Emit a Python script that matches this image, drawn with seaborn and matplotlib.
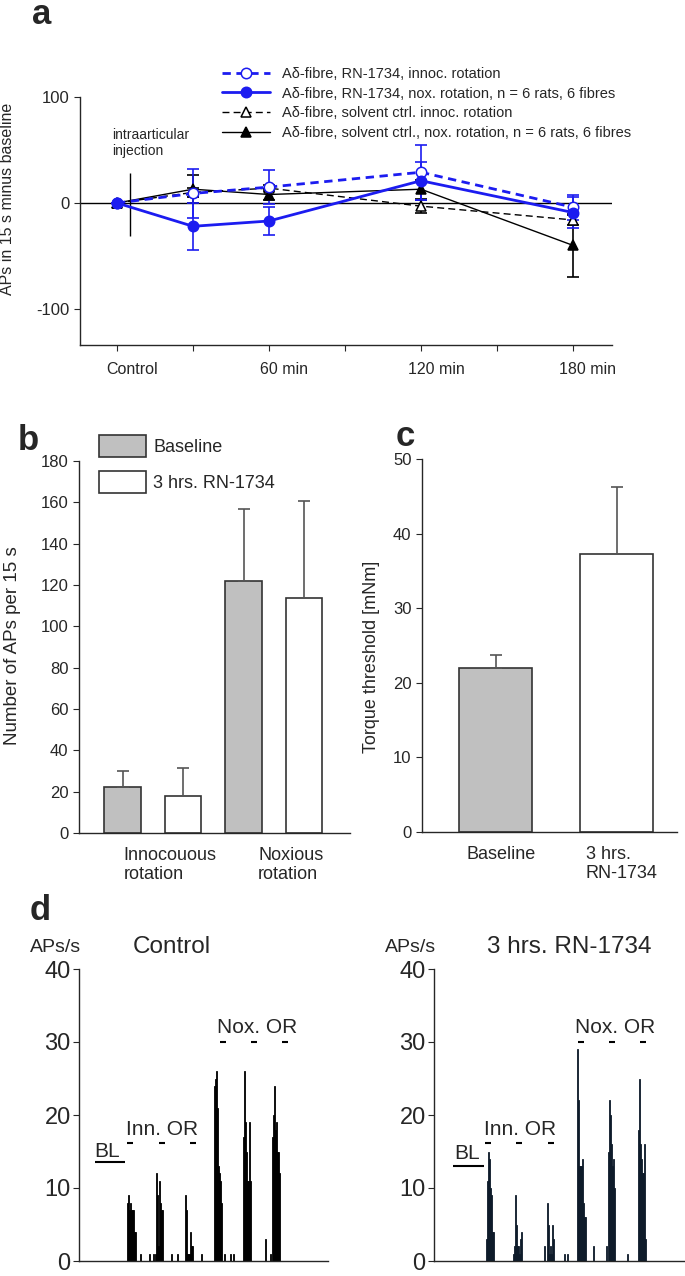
import numpy as np
import pandas as pd
import matplotlib
matplotlib.use("Agg")
import matplotlib.pyplot as plt
import matplotlib.transforms as mtransforms
import seaborn as sns

# ---- panel a: change of APs after injection ----
time_points = [0, 30, 60, 120, 180]
time_ticks = [0, 30, 60, 90, 120, 150, 180]
time_labels = ["Control", "", "60 min", "", "120 min", "", "180 min"]

rn_innoc_mean = [0, 9, 15, 29, -4]
rn_innoc_err = [0, 23, 16, 26, 12]
rn_nox_mean = [0, -22, -17, 21, -9]
rn_nox_err = [0, 22, 13, 18, 15]
solv_innoc_mean = [0, 10, 14, -3, -16]
solv_innoc_err = [0, 4, 3, 6, 5]
solv_nox_mean = [0, 13, 8, 13, -40]
solv_nox_err = [0, 13, 5, 9, 30]

injection_time = 5
injection_range = (-31, 28)

# ---- panel b: APs per 15 s ----
rotation_types = ["Innocouous\nrotation", "Noxious\nrotation"]
conditions = ["Baseline", "3 hrs. RN-1734"]
aps_baseline = [22.5, 122]
aps_baseline_err = [7.5, 35]
aps_rn = [18, 113.5]
aps_rn_err = [13.5, 47]

# ---- panel c: torque threshold ----
torque_groups = ["Baseline", "3 hrs.\nRN-1734"]
torque_mean = [22, 37.3]
torque_err = [1.7, 9]

# ---- panel d: rate histograms (s, APs/s) ----
ctrl_t = [48, 49, 50, 51, 52, 53, 54, 55, 56, 61, 70, 74, 76,
          77, 78, 79, 80, 81, 82, 83, 92, 98,
          106, 107, 108, 109, 110, 111, 112, 113, 122,
          136, 137, 138, 139, 140, 141, 142, 143, 146, 152, 155,
          165, 166, 167, 168, 169, 170, 171, 172, 186, 191,
          193, 194, 195, 196, 197, 198, 199, 200]
ctrl_rate = [8, 9, 7, 8, 7, 7, 7, 4, 4, 1, 1, 1, 1,
             12, 9, 2, 11, 8, 7, 7, 1, 1,
             9, 7, 1, 1, 1, 4, 2, 2, 1,
             24, 25, 26, 21, 13, 12, 11, 8, 1, 1, 1,
             17, 26, 19, 15, 11, 11, 19, 11, 3, 1,
             17, 20, 24, 18, 19, 15, 15, 12]
rn_t = [52, 53, 54, 55, 56, 57, 58, 59,
        79, 80, 81, 82, 83, 84, 85, 86, 87,
        110, 113, 114, 115, 116, 117, 118, 119, 130, 133,
        143, 144, 145, 146, 147, 148, 149, 150, 151, 159, 172,
        174, 175, 176, 177, 178, 179, 180, 193,
        204, 205, 206, 207, 208, 209, 210, 211]
rn_rate = [3, 11, 15, 14, 10, 9, 4, 4,
           1, 2, 9, 5, 2, 2, 1, 3, 4,
           2, 8, 5, 1, 2, 1, 5, 3, 1, 1,
           29, 22, 13, 13, 13, 14, 8, 6, 6, 2, 2,
           15, 22, 20, 16, 13, 14, 10, 1,
           18, 25, 16, 14, 12, 12, 16, 3]

ctrl_bl = (16, 46, 13.5)
ctrl_inn_marks = [51, 83, 114]
ctrl_nox_marks = [144, 175, 206]
rn_bl = (19, 50, 13)
rn_inn_marks = [54, 85, 117]
rn_nox_marks = [147, 178, 209]

sns.set_style("ticks")
plt.rcParams["font.family"] = ["Liberation Sans", "DejaVu Sans"]
plt.rcParams["axes.linewidth"] = 1.0
plt.rcParams["axes.unicode_minus"] = False

W, H = 685, 1276
fig = plt.figure(figsize=(W / 100, H / 100), dpi=100)


def px_axes(l, t, r, b):
    return fig.add_axes([l / W, 1 - b / H, (r - l) / W, (b - t) / H])


def shift_labels(labels, dx):
    off = mtransforms.ScaledTranslation(dx / 100, 0, fig.dpi_scale_trans)
    for lab in labels:
        lab.set_transform(lab.get_transform() + off)


blue = "#1c1cf0"

# ================= a =================
ax = px_axes(80, 97, 612, 345)
ax.axhline(0, color="black", lw=1, zorder=1)
ax.vlines(injection_time, *injection_range, color="black", lw=1)
ax.text(-2, 42, "intraarticular\ninjection", fontsize=10, ha="left", va="bottom")

series = [
    ("A\u03b4-fibre, solvent ctrl. innoc. rotation", solv_innoc_mean, solv_innoc_err,
     "black", (0, (5, 3)), 1.0, "^", "white"),
    ("A\u03b4-fibre, solvent ctrl., nox. rotation, n = 6 rats, 6 fibres", solv_nox_mean, solv_nox_err,
     "black", "-", 1.0, "^", "black"),
    ("A\u03b4-fibre, RN-1734, innoc. rotation", rn_innoc_mean, rn_innoc_err,
     blue, (0, (3, 2)), 2.0, "o", "white"),
    ("A\u03b4-fibre, RN-1734, nox. rotation, n = 6 rats, 6 fibres", rn_nox_mean, rn_nox_err,
     blue, "-", 2.0, "o", blue),
]
for label, mean, err, col, ls, lw, mk, mfc in series:
    ax.errorbar(time_points, mean, yerr=err, fmt="none", ecolor=col,
                elinewidth=1.2, capsize=4, capthick=1.2, zorder=2)
    sns.lineplot(x=time_points, y=mean, ax=ax, color=col, linestyle=ls, linewidth=lw,
                 marker=mk, markersize=7.5, markerfacecolor=mfc, markeredgecolor=col,
                 markeredgewidth=1.1, label=label, zorder=3)

ax.set_xlim(-14.6, 195.4)
ax.set_ylim(-134, 100)
ax.set_xticks(time_ticks)
ax.set_xticklabels(time_labels)
ax.set_yticks([-100, 0, 100])
ax.tick_params(direction="out", length=4, labelsize=12)
ax.tick_params(axis="x", labelsize=11.5, pad=8)
shift_labels(ax.get_xticklabels(), 15)
sns.despine(ax=ax)
ax.set_ylabel("APs in 15 s minus baseline", fontsize=11.5)
ax.yaxis.set_label_coords(-0.122, 0.59)
h, l = ax.get_legend_handles_labels()
order = [2, 3, 0, 1]
ax.legend([h[i] for i in order], [l[i] for i in order], loc="upper left",
          bbox_to_anchor=(222 / W, 1 - 67 / H), bbox_transform=fig.transFigure,
          frameon=False, fontsize=10.5, handlelength=3.3, handletextpad=0.8,
          labelspacing=0.38, borderpad=0, borderaxespad=0)

# ================= b =================
ax_b = px_axes(79, 461, 350, 833)
df_b = pd.DataFrame({
    "rotation": rotation_types * 2,
    "condition": [c for c in conditions for _ in rotation_types],
    "aps": aps_baseline + aps_rn,
})
sns.barplot(data=df_b, x="rotation", y="aps", hue="condition", hue_order=conditions,
            palette=["#c0c0c0", "white"], edgecolor="#333333", linewidth=1.2,
            width=1.0, gap=0.39, errorbar=None, ax=ax_b)
for cont, errs in zip(ax_b.containers, [aps_baseline_err, aps_rn_err]):
    xs = [p.get_x() + p.get_width() / 2 for p in cont]
    ys = [p.get_height() for p in cont]
    ax_b.errorbar(xs, ys, yerr=[[0] * len(errs), errs], fmt="none",
                  ecolor="#555555", elinewidth=1.2, capsize=4, capthick=1.2)
ax_b.set_xlim(-0.61, 1.63)
ax_b.set_ylim(0, 180)
ax_b.set_yticks(range(0, 181, 20))
ax_b.set_xlabel("")
ax_b.set_ylabel("Number of APs per 15 s", fontsize=13.5)
ax_b.yaxis.set_label_coords(-0.215, 0.505)
ax_b.tick_params(axis="y", direction="out", length=4, labelsize=12)
ax_b.tick_params(axis="x", length=0, labelsize=13, pad=10)
for lab in ax_b.get_xticklabels():
    lab.set_multialignment("left")
shift_labels(ax_b.get_xticklabels(), 17)
sns.despine(ax=ax_b)
hb, lb = ax_b.get_legend_handles_labels()
ax_b.legend(hb, lb, loc="upper left", bbox_to_anchor=(99 / W, 1 - 435 / H),
            bbox_transform=fig.transFigure, frameon=False, fontsize=13,
            handlelength=2.6, handleheight=1.5, handletextpad=0.4,
            labelspacing=0.75, borderpad=0, borderaxespad=0)

# ================= c =================
ax_c = px_axes(422, 459, 677, 832)
sns.barplot(x=torque_groups, y=torque_mean, hue=torque_groups,
            palette=["#c0c0c0", "white"], edgecolor="#333333", linewidth=1.2,
            width=0.6, legend=False, ax=ax_c)
for p, e in zip(ax_c.patches, torque_err):
    ax_c.errorbar(p.get_x() + p.get_width() / 2, p.get_height(), yerr=[[0], [e]],
                  fmt="none", ecolor="#555555", elinewidth=1.2, capsize=4, capthick=1.2)
ax_c.set_xlim(-0.61, 1.5)
ax_c.set_ylim(0, 50)
ax_c.set_yticks(range(0, 51, 10))
ax_c.set_ylabel("Torque threshold [mNm]", fontsize=13)
ax_c.yaxis.set_label_coords(-0.165, 0.47)
ax_c.tick_params(axis="y", direction="out", length=4, labelsize=12)
ax_c.tick_params(axis="x", length=0, labelsize=13, pad=10)
for lab in ax_c.get_xticklabels():
    lab.set_multialignment("left")
shift_labels(ax_c.get_xticklabels(), 5)
sns.despine(ax=ax_c)

# ================= d =================
panels_d = [
    (px_axes(79, 969, 328, 1261), ctrl_t, ctrl_rate, "black", 249, "Control", 0.373,
     ctrl_bl, ctrl_inn_marks, ctrl_nox_marks, 28, 83, 178, 14.3),
    (px_axes(434, 969, 685, 1261), rn_t, rn_rate, "#0d1a29", 251, "3 hrs. RN-1734", 0.54,
     rn_bl, rn_inn_marks, rn_nox_marks, 33, 86, 181, 14.0),
]
for (axd, t, rate, col, tmax, title, tx, bl, inn, nox,
     bl_x, inn_x, nox_x, bl_y) in panels_d:
    sns.histplot(x=t, weights=rate, discrete=True, color=col, alpha=1,
                 linewidth=0.6, edgecolor=col, element="bars", ax=axd)
    axd.set_xlim(0, tmax)
    axd.set_ylim(0, 40)
    axd.set_yticks(range(0, 41, 10))
    axd.set_xticks([])
    axd.set_xlabel("")
    axd.set_ylabel("")
    axd.tick_params(axis="y", direction="out", length=4, labelsize=17, pad=2)
    sns.despine(ax=axd)
    axd.text(-0.094, 1.075, "APs/s", transform=axd.transAxes, fontsize=14,
             ha="center", va="center")
    axd.text(tx, 1.075, title, transform=axd.transAxes, fontsize=17.5,
             ha="center", va="center")
    axd.hlines(bl[2], bl[0], bl[1], color="black", lw=1.5)
    axd.text(bl_x, bl_y, "BL", fontsize=15, ha="center", va="baseline")
    axd.hlines([16.2] * 3, [m - 3 for m in inn], [m + 3 for m in inn], color="black", lw=1.5)
    axd.text(inn_x, 17.3, "Inn. OR", fontsize=15, ha="center", va="baseline")
    axd.hlines([30] * 3, [m - 3 for m in nox], [m + 3 for m in nox], color="black", lw=1.5)
    axd.text(nox_x, 31.2, "Nox. OR", fontsize=15, ha="center", va="baseline")

# panel letters
for letter, x, y in [("a", 42, 15), ("b", 28, 440), ("c", 405, 436), ("d", 40, 910)]:
    fig.text(x / W, 1 - y / H, letter, fontsize=25, fontweight="bold",
             ha="center", va="center")

fig.savefig("out.png", dpi=100)
